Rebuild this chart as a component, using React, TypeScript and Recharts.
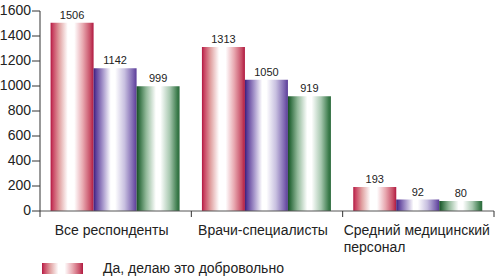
import React from 'react';
import { BarChart, Bar, XAxis, YAxis, LabelList, Legend } from 'recharts';

const categories = ['Все респонденты', 'Врачи-специалисты', 'Средний медицинский\nперсонал'];
const seriesA = [1506, 1313, 193];
const seriesB = [1142, 1050, 92];
const seriesC = [999, 919, 80];
const yTicks = [0, 200, 400, 600, 800, 1000, 1200, 1400, 1600];
const legendLabel = 'Да, делаю это добровольно';

const data = categories.map((c, i) => ({ name: c, a: seriesA[i], b: seriesB[i], c: seriesC[i] }));

const FONT = '"Liberation Sans", Arial, sans-serif';

const CatTick = (props: any) => {
  const { x, y, payload, index } = props;
  const off = payload.offset ?? 0;
  const lines = String(payload.value).split('\n');
  const last = index === categories.length - 1;
  const multi = lines.length > 1;
  return (
    <g>
      <line x1={x - off} x2={x - off} y1={y} y2={y + 6} stroke="#333" strokeWidth={1} />
      {last && <line x1={x + off} x2={x + off} y1={y} y2={y + 6} stroke="#333" strokeWidth={1} />}
      <text
        x={multi ? x - off + 1 : x - 4}
        y={y + 24}
        textAnchor={multi ? 'start' : 'middle'}
        fontFamily={FONT}
        fontSize={14}
        fill="#222"
      >
        {lines.map((l, i) => (
          <tspan key={i} x={multi ? x - off + 1 : x - 4} dy={i === 0 ? 0 : 17}>
            {l}
          </tspan>
        ))}
      </text>
    </g>
  );
};

const LegendContent = () => (
  <div style={{ position: 'relative', height: 22, width: 495, fontFamily: FONT }}>
    <div
      style={{
        position: 'absolute',
        left: 42,
        top: 9,
        width: 41,
        height: 11,
        background:
          'linear-gradient(to right, #b01840 0%, #c84060 5%, #e0a0a0 20%, #ffffff 40%, #ffffff 55%, #e8a8b0 75%, #c85068 92%, #b01840 100%)',
      }}
    />
    <div
      style={{
        position: 'absolute',
        left: 103,
        top: 6,
        fontSize: 14,
        lineHeight: '16px',
        color: '#222',
        whiteSpace: 'nowrap',
      }}
    >
      {legendLabel}
    </div>
  </div>
);

export default function App() {
  return (
    <div style={{ position: 'absolute', left: 0, top: 0, width: 495, height: 276, background: '#fff', fontFamily: FONT }}>
      <BarChart
        width={495}
        height={276}
        data={data}
        margin={{ top: 11, right: 1, left: 0, bottom: 0 }}
        barCategoryGap="7%"
        barGap={0}
      >
        <defs>
          <linearGradient id="gRed" x1="0" y1="0" x2="1" y2="0">
            <stop offset="0%" stopColor="#b01840" />
            <stop offset="5%" stopColor="#c84060" />
            <stop offset="20%" stopColor="#e0a0a0" />
            <stop offset="40%" stopColor="#ffffff" />
            <stop offset="55%" stopColor="#ffffff" />
            <stop offset="75%" stopColor="#e8a8b0" />
            <stop offset="92%" stopColor="#c85068" />
            <stop offset="100%" stopColor="#b01840" />
          </linearGradient>
          <linearGradient id="gPurple" x1="0" y1="0" x2="1" y2="0">
            <stop offset="0%" stopColor="#3a1e7a" />
            <stop offset="5%" stopColor="#5a3c98" />
            <stop offset="22%" stopColor="#a898cc" />
            <stop offset="40%" stopColor="#ffffff" />
            <stop offset="50%" stopColor="#ffffff" />
            <stop offset="72%" stopColor="#c8c0e0" />
            <stop offset="92%" stopColor="#7c64b0" />
            <stop offset="100%" stopColor="#5a3c98" />
          </linearGradient>
          <linearGradient id="gGreen" x1="0" y1="0" x2="1" y2="0">
            <stop offset="0%" stopColor="#1a4a28" />
            <stop offset="5%" stopColor="#2c6a3c" />
            <stop offset="22%" stopColor="#90b898" />
            <stop offset="45%" stopColor="#ffffff" />
            <stop offset="55%" stopColor="#ffffff" />
            <stop offset="77%" stopColor="#a8c8b0" />
            <stop offset="95%" stopColor="#3a7a4a" />
            <stop offset="100%" stopColor="#2c6a3c" />
          </linearGradient>
        </defs>
        <XAxis
          dataKey="name"
          height={43}
          interval={0}
          tickLine={false}
          tickSize={0}
          tickMargin={0}
          axisLine={{ stroke: '#555' }}
          tick={<CatTick />}
        />
        <YAxis
          width={40}
          domain={[0, 1600]}
          ticks={yTicks}
          interval={0}
          tickSize={8}
          tickMargin={1}
          axisLine={{ stroke: '#333' }}
          tickLine={{ stroke: '#333' }}
          tick={{ fontSize: 14, fill: '#222', fontFamily: FONT, dy: -1 }}
        />
        <Legend verticalAlign="bottom" height={22} content={<LegendContent />} wrapperStyle={{ left: 0, bottom: 0, width: 495 }} />
        <Bar dataKey="a" fill="url(#gRed)" isAnimationActive={false}>
          <LabelList dataKey="a" position="top" offset={4} style={{ fontSize: 11, fill: '#222', fontFamily: FONT }} />
        </Bar>
        <Bar dataKey="b" fill="url(#gPurple)" isAnimationActive={false}>
          <LabelList dataKey="b" position="top" offset={4} style={{ fontSize: 11, fill: '#222', fontFamily: FONT }} />
        </Bar>
        <Bar dataKey="c" fill="url(#gGreen)" isAnimationActive={false}>
          <LabelList dataKey="c" position="top" offset={4} style={{ fontSize: 11, fill: '#222', fontFamily: FONT }} />
        </Bar>
      </BarChart>
    </div>
  );
}
